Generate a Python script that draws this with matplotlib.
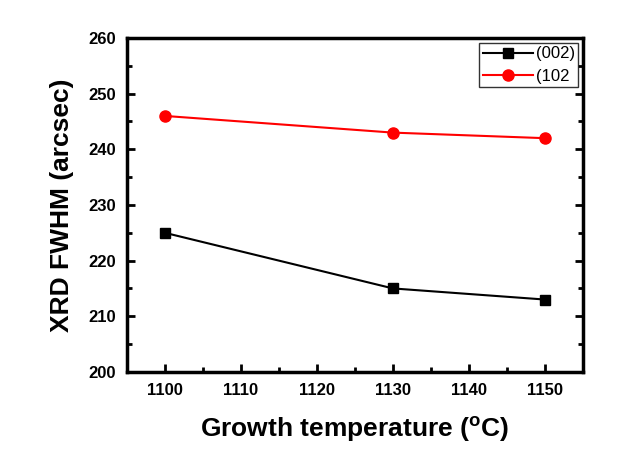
import matplotlib
matplotlib.use("Agg")
import matplotlib.pyplot as plt
from matplotlib.ticker import MultipleLocator

plt.rcParams['font.family'] = ['Liberation Sans', 'DejaVu Sans']

temps = [1100, 1130, 1150]
fwhm_002 = [225, 215, 213]
fwhm_102 = [246, 243, 242]
labels = ['(002)', '(102']

fig = plt.figure(figsize=(6.4, 4.58), dpi=100)
ax = fig.add_axes([0.198, 0.188, 0.713, 0.729])

ax.plot(temps, fwhm_002, '-s', color='black', lw=1.5, ms=7, label=labels[0])
ax.plot(temps, fwhm_102, '-o', color='#ff0000', lw=1.5, ms=8, label=labels[1])

ax.set_xlim(1095, 1155)
ax.set_ylim(200, 260)
ax.xaxis.set_major_locator(MultipleLocator(10))
ax.xaxis.set_minor_locator(MultipleLocator(5))
ax.yaxis.set_major_locator(MultipleLocator(10))
ax.yaxis.set_minor_locator(MultipleLocator(5))
ax.tick_params(which='both', direction='in', right=True, top=False, width=2)
ax.tick_params(which='major', length=6, labelsize=12, pad=8)
ax.tick_params(which='minor', length=3.5)
for lab in ax.get_xticklabels() + ax.get_yticklabels():
    lab.set_fontweight('bold')
for s in ax.spines.values():
    s.set_linewidth(2.5)

ax.set_xlabel('Growth temperature ($\\mathregular{^{o}}$C)', fontsize=19, fontweight='bold', labelpad=12)
ax.set_ylabel('XRD FWHM (arcsec)', fontsize=19, fontweight='bold', labelpad=10)

leg = ax.legend(loc='upper right', fontsize=12, frameon=True, fancybox=False,
                edgecolor='black', handlelength=3.0, borderpad=0.2, labelspacing=0.45,
                handletextpad=0.2, borderaxespad=0.0, bbox_to_anchor=(0.99, 0.985))
leg.get_frame().set_linewidth(1.0)

fig.savefig('out.png', dpi=100)
